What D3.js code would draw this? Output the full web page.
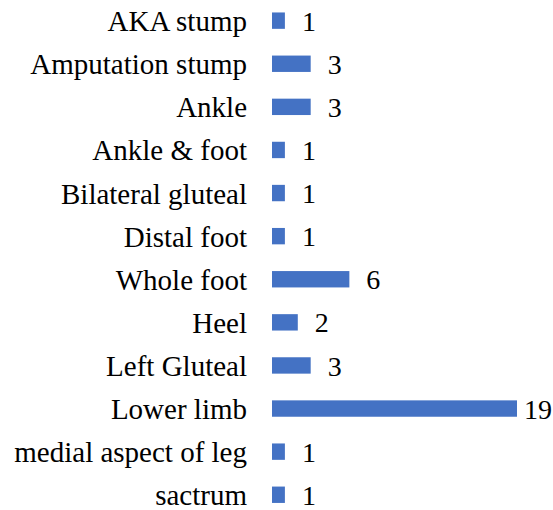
<!DOCTYPE html>
<meta charset="utf-8">
<style type="text/css">
  body {
    margin: 0;
    background: #fff;
    font-family: "Liberation Serif", "Times New Roman", serif;
  }
  .axis text {
    font-size: 29px;
    fill: #000;
  }
  .label {
    font-size: 28px;
    fill: #000;
  }
</style>
<body>
</body>
<script src="https://d3js.org/d3.v7.min.js"></script>
<script>
  var categories = ["AKA stump", "Amputation stump", "Ankle", "Ankle & foot",
    "Bilateral gluteal", "Distal foot", "Whole foot", "Heel", "Left Gluteal",
    "Lower limb", "medial aspect of leg", "sactrum"];
  var counts = [1, 3, 3, 1, 1, 1, 6, 2, 3, 19, 1, 1];

  var width = 553,
    height = 510,
    margin = { top: 0, right: 36, bottom: 0, left: 272 };

  var svg = d3.select("body").append("svg")
    .attr("width", width)
    .attr("height", height);

  var x = d3.scaleLinear()
    .domain([0, 19])
    .range([margin.left, margin.left + 245]);

  var y = d3.scaleBand()
    .domain(categories)
    .range([-0.9, 516.3])
    .paddingInner(0.62)
    .paddingOuter(0.31);

  var yAxis = d3.axisLeft(y).tickSize(0).tickPadding(25);

  svg.append("g")
    .attr("class", "axis")
    .attr("transform", "translate(" + margin.left + ",0)")
    .call(yAxis)
    .attr("font-family", null)
    .attr("font-size", null)
    .call(function(g) { g.select(".domain").remove(); })
    .selectAll("text")
    .attr("dy", "0.36em");

  svg.append("g")
    .selectAll("rect")
    .data(counts)
    .enter().append("rect")
    .attr("x", x(0))
    .attr("y", function(d, i) { return y(categories[i]); })
    .attr("width", function(d) { return x(d) - x(0); })
    .attr("height", y.bandwidth())
    .style("fill", "#4472c4");

  // value labels, pulled back when they would run off the right edge
  svg.append("g")
    .selectAll("text")
    .data(counts)
    .enter().append("text")
    .attr("class", "label")
    .attr("x", function(d) { return Math.min(x(d) + 17, width - 29); })
    .attr("y", function(d, i) { return y(categories[i]) + y.bandwidth() / 2; })
    .attr("dy", "0.36em")
    .text(function(d) { return d; });
</script>
